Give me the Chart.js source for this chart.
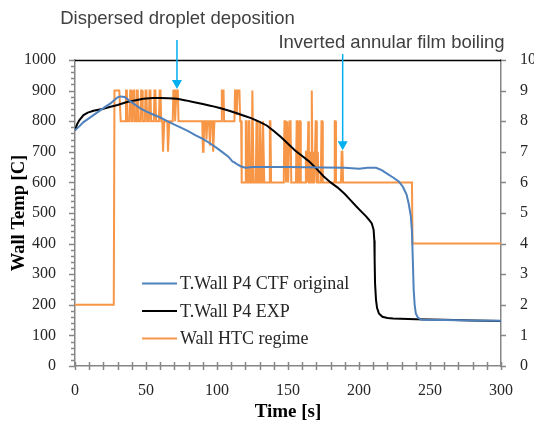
<!DOCTYPE html>
<html>
<head>
<meta charset="utf-8">
<script src="https://cdn.jsdelivr.net/npm/chart.js@4"></script>
<style>
  html, body { margin: 0; padding: 0; background: #fff; }
  #wrap { width: 534px; height: 426px; position: relative; }
</style>
</head>
<body>
<div id="wrap"><canvas id="chart" width="534" height="426"></canvas></div>
<script>
// ===== Data (time [s], value) =====
const ctfTemp = [
    [0, 770], [3, 783], [6, 797], [10, 810], [13, 820], [17, 833], [21, 846], [25, 858], [28, 870],
    [30, 878], [32, 881], [35, 879], [38, 868], [42, 855], [46, 842], [50, 832], [55, 822], [60, 812],
    [65, 800], [70, 789], [75, 778], [80, 767], [85, 754], [90, 742], [95, 728], [100, 712], [104, 698],
    [108, 684], [111, 668], [112, 666], [114, 660], [117, 652], [120, 648], [125, 650], [150, 650],
    [175, 649], [190, 648], [200, 645], [206, 648], [212, 648], [216, 640], [220, 628], [224, 616],
    [228, 603], [231, 585], [233.5, 560], [235, 530], [236.5, 490], [237.3, 440], [238, 330],
    [238.5, 250], [239.2, 200], [240, 172], [241.5, 158], [244, 151], [260, 150], [280, 149], [300, 148]
];
const expTemp = [
    [0, 770], [1.5, 790], [3, 803], [6, 820], [9, 828], [13, 834], [20, 841], [25, 847], [30, 853],
    [36, 862], [42, 868], [48, 873], [55, 876], [60, 876], [66, 875], [72, 873], [78, 868], [84, 862],
    [90, 856], [96, 850], [102, 843], [108, 835], [114, 826], [119, 818], [124, 810], [130, 798],
    [135, 786], [140, 768], [145, 748], [150, 726], [155, 704], [160, 686], [165, 668], [170, 645],
    [175, 620], [180, 600], [185, 583], [190, 562], [194, 542], [198, 522], [202, 503], [205, 489],
    [207, 478], [209, 466], [210.3, 445], [210.8, 410], [211, 350], [211.3, 270], [212, 215],
    [212.7, 190], [214, 172], [216.5, 161], [220, 157], [224, 155], [240, 153], [260, 151], [280, 149], [300, 147]
];
const htcRegime = [
    [0, 2], [27.3, 2], [27.8, 9], [31.2, 9], [32.2, 8],
    [35.4, 8], [35.9, 9], [36.5, 9], [37, 8], [38.4, 8], [38.9, 9], [39.5, 9], [40, 8],
    [40.7, 8], [41.2, 9], [41.8, 9], [42.3, 8], [43.1, 8], [43.6, 9], [44.2, 9], [44.7, 8],
    [46.1, 8], [46.6, 9], [47.2, 9], [47.7, 8], [49.2, 8], [49.7, 9], [50.3, 9], [50.8, 8],
    [52, 8], [52.5, 9], [53.1, 9], [53.6, 8], [55.5, 8], [56, 9], [56.6, 9], [57.1, 8],
    [59.1, 8], [59.6, 9], [60.2, 9], [60.7, 8], [61.5, 8], [62, 7], [62.4, 7], [62.9, 8],
    [65, 8], [65.5, 7], [65.9, 7], [66.4, 8],
    [68.8, 8], [69.3, 9], [70.1, 9], [70.5, 8], [71, 8], [71.4, 9], [72.4, 9], [72.9, 8],
    [89.6, 8], [90.1, 7], [90.5, 7], [91, 8], [92, 8], [92.6, 7.4], [93.2, 8],
    [94.4, 8], [95, 7.2], [95.6, 8], [96.8, 8], [97.3, 7], [97.7, 7], [98.2, 8],
    [103, 8], [103.4, 9], [104.6, 9], [105, 8],
    [112.3, 8], [112.7, 9], [113.4, 9], [113.9, 8.2], [114.5, 9], [115.8, 9], [116.3, 8], [117, 8], [117.4, 6],
    [119.8, 6], [120.3, 8], [120.8, 8], [121.3, 6], [121.9, 6], [122.4, 8], [122.8, 8], [123.3, 6],
    [124.4, 6], [124.9, 9], [125.3, 9], [125.8, 6], [127.3, 6], [127.8, 8], [128.2, 8], [128.7, 6],
    [129.9, 6], [130.4, 8], [130.8, 8], [131.3, 6], [131.9, 6], [132.4, 8], [132.8, 8], [133.3, 6],
    [136.7, 6], [137.2, 8], [137.6, 8], [138.1, 6],
    [147, 6], [147.5, 8], [148.2, 8], [148.6, 6], [149.1, 6], [149.6, 8], [150.1, 6],
    [150.7, 6], [151.2, 8], [151.8, 8], [152.3, 6],
    [155.6, 6], [156.1, 8], [156.5, 8], [157, 6], [157.6, 6], [158.1, 8], [158.5, 8], [159, 6],
    [162.1, 6], [162.6, 7], [163, 7], [163.5, 6], [163.8, 6], [164.3, 8], [164.7, 6],
    [165.1, 6], [165.5, 7], [165.9, 6], [166.2, 6], [166.6, 9], [166.9, 9], [167.3, 6],
    [167.7, 6], [168.2, 7], [168.6, 6], [169, 6], [169.5, 8], [169.9, 8], [170.3, 6],
    [170.6, 6], [171, 7], [171.4, 6], [173.1, 6], [173.6, 8], [174, 8], [174.5, 6],
    [182.4, 6], [182.9, 8], [183.3, 8], [183.8, 6], [187.3, 6], [187.8, 7], [188.3, 7], [188.8, 6],
    [237.3, 6], [237.7, 4], [300, 4]
];
const seriesLabels = ['T.Wall P4 CTF original', 'T.Wall P4 EXP', 'Wall HTC regime'];
const seriesColors = ['#4f81bd', '#000000', '#f79646'];

// annotations: [text, arrow time, arrow tip regime, text center x, text y, arrow start y]
const annotations = [
    ['Dispersed droplet deposition', 71.8, 9.05, 177.5, 19, 40],
    ['Inverted annular film boiling', 188.5, 7.05, 391.5, 43, 54]
];

const serif = '"Liberation Serif", "DejaVu Serif", serif';
const axisGray = '#868686';

const toXY = arr => arr.map(p => ({ x: p[0], y: p[1] }));

// ===== Extras: tick marks, top line, legend, annotations =====
const extrasPlugin = {
    id: 'extras',
    afterDraw(chart) {
        const { ctx, chartArea: a, scales } = chart;
        const x = scales.x, y = scales.y, y1 = scales.y1;
        ctx.save();

        // top border line
        ctx.strokeStyle = '#000';
        ctx.lineWidth = 1.3;
        ctx.beginPath();
        ctx.moveTo(a.left, a.top + 0.5);
        ctx.lineTo(a.right, a.top + 0.5);
        ctx.stroke();

        // tick marks
        ctx.strokeStyle = axisGray;
        ctx.lineWidth = 1.5;
        ctx.beginPath();
        for (let v = 0; v <= 1000; v += 20) {
            const py = Math.round(y.getPixelForValue(v)) + 0.5;
            const len = v % 100 === 0 ? 6 : 4;
            ctx.moveTo(a.left - len, py);
            ctx.lineTo(a.left, py);
        }
        for (let v = 0; v <= 300; v += 10) {
            const px = Math.round(x.getPixelForValue(v)) + 0.5;
            ctx.moveTo(px, a.bottom - 4);
            ctx.lineTo(px, a.bottom + 4);
        }
        for (let v = 0; v <= 10; v += 1) {
            const py = Math.round(y1.getPixelForValue(v)) + 0.5;
            ctx.moveTo(a.right, py);
            ctx.lineTo(a.right + 5, py);
        }
        ctx.stroke();

        // legend
        const legendTop = 283.5, legendStep = 27.5;
        ctx.font = '18px ' + serif;
        ctx.textBaseline = 'middle';
        ctx.textAlign = 'left';
        chart.data.datasets.forEach((ds, i) => {
            const ly = legendTop + i * legendStep;
            ctx.strokeStyle = ds.borderColor;
            ctx.lineWidth = 2.2;
            ctx.beginPath();
            ctx.moveTo(142, ly);
            ctx.lineTo(177, ly);
            ctx.stroke();
            ctx.fillStyle = '#262626';
            ctx.fillText(ds.label, 180, ly + 1);
        });

        // annotations with arrows
        ctx.font = '18.5px "Liberation Sans", Arial, sans-serif';
        ctx.textAlign = 'center';
        annotations.forEach(([text, t, tip, tx, ty, startY]) => {
            ctx.fillStyle = '#404040';
            ctx.fillText(text, tx, ty);
            const ax = x.getPixelForValue(t);
            const tipY = y1.getPixelForValue(tip);
            ctx.strokeStyle = '#00b0f0';
            ctx.fillStyle = '#00b0f0';
            ctx.lineWidth = 1.5;
            ctx.beginPath();
            ctx.moveTo(ax, startY);
            ctx.lineTo(ax, tipY - 8);
            ctx.stroke();
            ctx.beginPath();
            ctx.moveTo(ax - 5, tipY - 9);
            ctx.lineTo(ax + 5, tipY - 9);
            ctx.lineTo(ax, tipY);
            ctx.closePath();
            ctx.fill();
        });

        ctx.restore();
    }
};

const tickFont = { family: serif, size: 16 };

new Chart(document.getElementById('chart'), {
    type: 'scatter',
    data: {
        datasets: [
            { label: seriesLabels[0], data: toXY(ctfTemp), borderColor: seriesColors[0], yAxisID: 'y' },
            { label: seriesLabels[1], data: toXY(expTemp), borderColor: seriesColors[1], yAxisID: 'y' },
            { label: seriesLabels[2], data: toXY(htcRegime), borderColor: seriesColors[2], yAxisID: 'y1' }
        ].map(ds => Object.assign(ds, {
            showLine: true, pointRadius: 0, borderWidth: 2, tension: 0, fill: false
        }))
    },
    options: {
        responsive: false,
        animation: false,
        layout: { padding: { top: 60, left: 0, right: 0, bottom: 0 } },
        plugins: { legend: { display: false }, tooltip: { enabled: false } },
        scales: {
            x: {
                type: 'linear', min: 0, max: 300,
                grid: { display: false },
                border: { display: true, color: axisGray, width: 1.5 },
                ticks: { stepSize: 50, color: '#262626', padding: 7, font: tickFont, callback: v => String(v) },
                title: { display: true, text: 'Time [s]', color: '#000', padding: { top: 0, bottom: 3 },
                    font: { family: serif, size: 19, weight: 'bold' } },
                afterFit: s => { s.height = 60; }
            },
            y: {
                type: 'linear', position: 'left', min: 0, max: 1000,
                grid: { display: false },
                border: { display: true, color: axisGray, width: 1.5 },
                ticks: { stepSize: 100, color: '#262626', padding: 11, font: tickFont, callback: v => String(v) },
                title: { display: true, text: 'Wall Temp [C]', color: '#000', padding: { top: 8, bottom: 0 },
                    font: { family: serif, size: 18.5, weight: 'bold' } },
                afterFit: s => { s.width = 75; }
            },
            y1: {
                type: 'linear', position: 'right', min: 0, max: 10,
                grid: { display: false },
                border: { display: true, color: axisGray, width: 1.5 },
                ticks: { stepSize: 1, color: '#262626', padding: 11, font: tickFont, callback: v => String(v) },
                afterFit: s => { s.width = 33; }
            }
        }
    },
    plugins: [extrasPlugin]
});
</script>
</body>
</html>
